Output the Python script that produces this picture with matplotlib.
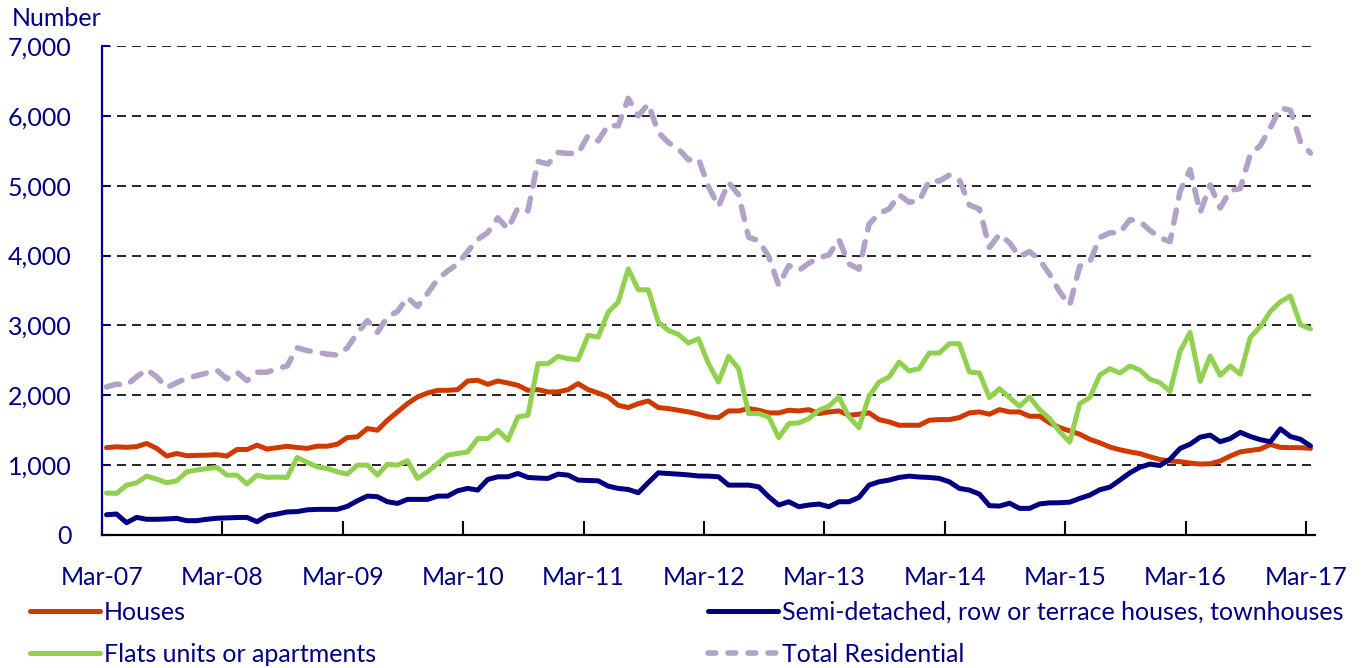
import matplotlib
matplotlib.use("Agg")
import matplotlib.pyplot as plt
from matplotlib.lines import Line2D
import numpy as np

plt.rcParams["font.family"] = ["Lato", "DejaVu Sans"]

tick_labels = ["Mar-07", "Mar-08", "Mar-09", "Mar-10", "Mar-11", "Mar-12",
               "Mar-13", "Mar-14", "Mar-15", "Mar-16", "Mar-17"]

# monthly values, Mar-07 .. Mar-17
houses = [
    1250, 1262, 1255, 1265, 1310, 1240, 1130, 1167, 1135, 1140, 1143, 1150, 1130, 1224, 1224, 1286, 1230, 1250, 1270, 1252,
    1240, 1271, 1271, 1300, 1395, 1405, 1524, 1500, 1643, 1762, 1881, 1976, 2033, 2071, 2071, 2081, 2205, 2214, 2157, 2205,
    2176, 2143, 2071, 2081, 2048, 2048, 2081, 2167, 2081, 2033, 1976, 1857, 1824, 1881, 1919, 1824, 1810, 1786, 1762, 1730,
    1690, 1681, 1776, 1776, 1810, 1786, 1748, 1748, 1786, 1776, 1795, 1738, 1762, 1776, 1714, 1729, 1748, 1652, 1619, 1571,
    1571, 1571, 1643, 1652, 1652, 1681, 1748, 1762, 1729, 1795, 1762, 1762, 1700, 1700, 1605, 1538, 1490, 1443, 1370, 1320,
    1260, 1220, 1190, 1165, 1120, 1080, 1060, 1050, 1030, 1015, 1020, 1060, 1130, 1190, 1210, 1230, 1295, 1255, 1250, 1250,
    1240,
]
semi = [
    290, 300, 176, 252, 225, 225, 230, 238, 205, 205, 225, 240, 245, 250, 252, 190, 275, 300, 330, 335,
    360, 367, 367, 367, 410, 490, 557, 548, 476, 452, 510, 510, 510, 557, 557, 633, 667, 643, 795, 833,
    833, 881, 824, 815, 810, 871, 857, 786, 780, 776, 700, 667, 652, 605, 750, 890, 880, 871, 860, 845,
    843, 833, 714, 714, 714, 690, 548, 429, 476, 405, 429, 443, 405, 476, 476, 538, 714, 762, 786, 824,
    843, 830, 824, 810, 762, 667, 643, 586, 420, 414, 455, 381, 381, 445, 460, 462, 470, 524, 571, 648,
    685, 786, 890, 970, 1015, 995, 1085, 1238, 1300, 1400, 1430, 1335, 1380, 1470, 1410, 1365, 1335, 1520, 1410, 1370,
    1275,
]
flats = [
    600, 595, 714, 748, 843, 800, 748, 776, 905, 930, 950, 967, 857, 857, 729, 857, 825, 830, 824, 1110,
    1040, 976, 952, 905, 871, 1000, 1000, 857, 1014, 1000, 1062, 810, 905, 1024, 1143, 1167, 1190, 1381, 1381, 1500,
    1357, 1690, 1714, 2452, 2452, 2557, 2524, 2510, 2857, 2833, 3190, 3333, 3810, 3510, 3510, 3048, 2929, 2871, 2748, 2810,
    2452, 2190, 2557, 2381, 1738, 1738, 1690, 1395, 1595, 1605, 1667, 1786, 1843, 1976, 1690, 1538, 1986, 2190, 2262, 2476,
    2350, 2381, 2605, 2605, 2738, 2738, 2333, 2319, 1967, 2095, 1967, 1843, 1976, 1795, 1667, 1480, 1330, 1881, 1967, 2290,
    2381, 2319, 2420, 2360, 2230, 2180, 2055, 2630, 2900, 2200, 2560, 2286, 2420, 2300, 2830, 2980, 3200, 3340, 3420, 3010,
    2950,
]
total = [
    2120, 2160, 2145, 2265, 2370, 2265, 2110, 2180, 2245, 2280, 2320, 2360, 2235, 2330, 2210, 2330, 2330, 2380, 2420, 2680,
    2640, 2615, 2590, 2575, 2680, 2890, 3070, 2900, 3120, 3200, 3400, 3270, 3460, 3660, 3780, 3880, 4060, 4230, 4330, 4540,
    4380, 4680, 4640, 5348, 5310, 5476, 5462, 5463, 5718, 5642, 5866, 5857, 6250, 6000, 6170, 5762, 5619, 5528, 5370, 5385,
    4985, 4704, 5047, 4871, 4262, 4214, 3986, 3572, 3857, 3786, 3891, 3967, 4010, 4228, 3880, 3805, 4448, 4604, 4667, 4871,
    4764, 4782, 5072, 5067, 5152, 5086, 4724, 4667, 4116, 4304, 4184, 3986, 4057, 3940, 3732, 3480, 3290, 3848, 3908, 4258,
    4326, 4325, 4515, 4490, 4360, 4255, 4200, 4918, 5230, 4615, 5010, 4681, 4930, 4960, 5450, 5575, 5830, 6115, 6080, 5630,
    5465,
]

NAVY = "#000080"
C_HOUSES = "#d03a00"
C_SEMI = "#000080"
C_FLATS = "#92d050"
C_TOTAL = "#b3a2c7"

fig = plt.figure(figsize=(13.72, 6.68), dpi=100)
ax = fig.add_axes([102 / 1372, 1 - 535 / 668, 1213 / 1372, 489 / 668])

x = np.arange(len(houses)) + 0.45
lw = 3.6
ax.plot(x, houses, color=C_HOUSES, lw=lw, solid_joinstyle="round", solid_capstyle="round", zorder=3)
ax.plot(x, semi, color=C_SEMI, lw=lw, solid_joinstyle="round", solid_capstyle="round", zorder=4)
ax.plot(x, flats, color=C_FLATS, lw=lw, solid_joinstyle="round", solid_capstyle="round", zorder=5)
ax.plot(x, total, color=C_TOTAL, lw=4.0, linestyle=(0, (2.4, 2.2)), dash_capstyle="round",
        dash_joinstyle="round", zorder=6)

ax.set_xlim(0, 120.9)
ax.set_ylim(0, 7000)
ax.set_xticks(np.arange(0, 121, 12))
ax.set_xticklabels(tick_labels)
ax.set_yticks(range(0, 7001, 1000))
ax.set_yticklabels([f"{v:,}" for v in range(0, 7001, 1000)])

for v in range(1000, 7001, 1000):
    ax.axhline(v, color="black", lw=1.2, linestyle=(0, (5.4, 3.6)), zorder=1)

for side in ("top", "right"):
    ax.spines[side].set_visible(False)
ax.spines["left"].set_color(NAVY)
ax.spines["left"].set_linewidth(1.6)
ax.spines["bottom"].set_color("black")
ax.spines["bottom"].set_linewidth(1.6)

ax.tick_params(axis="x", direction="in", length=10, width=1.5, color="black",
               labelsize=18, labelcolor=NAVY, pad=22)
ax.tick_params(axis="y", direction="in", length=6, width=1.5, color=NAVY,
               labelsize=18, labelcolor=NAVY, pad=22)

fig.text(12 / 1372, 1 - 18 / 668, "Number", color=NAVY, fontsize=18, ha="left", va="center")

handles = [
    Line2D([], [], color=C_HOUSES, lw=lw, solid_capstyle="round"),
    Line2D([], [], color=C_FLATS, lw=lw, solid_capstyle="round"),
    Line2D([], [], color=C_SEMI, lw=lw, solid_capstyle="round"),
    Line2D([], [], color=C_TOTAL, lw=4.0, linestyle=(0, (1.4, 2.2)), dash_capstyle="round"),
]
labels = ["Houses", "Flats units or apartments",
          "Semi-detached, row or terrace houses, townhouses", "Total Residential"]
leg = fig.legend(handles, labels, loc="upper left", bbox_to_anchor=(30 / 1372, 1 - 601 / 668),
                 ncol=2, frameon=False, fontsize=18, handlelength=2.8, handletextpad=0.15,
                 columnspacing=13.3, labelspacing=0.75, borderpad=0, borderaxespad=0)
for t in leg.get_texts():
    t.set_color(NAVY)

fig.savefig("out.png", dpi=100)
